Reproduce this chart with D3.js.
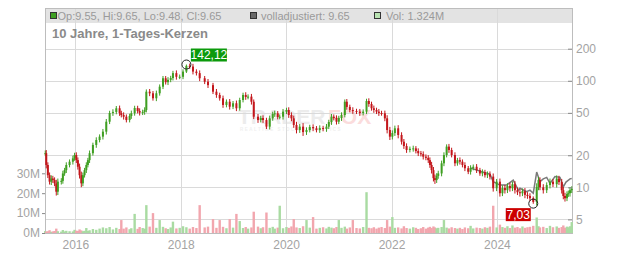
<!DOCTYPE html>
<html><head><meta charset="utf-8">
<script src="https://cdn.jsdelivr.net/npm/d3@7"></script>
<style>html,body{margin:0;padding:0;background:#fff;}svg{display:block;font-family:"Liberation Sans",Arial,sans-serif;}</style>
</head><body><svg id="c" width="632" height="253"></svg>
<script>
// ---- data ----
const years = [2015.430,2015.449,2015.479,2015.512,2015.544,2015.574,2015.607,2015.639,2015.669,2015.734,
2015.764,2015.797,2015.829,2015.891,2015.954,2015.986,2016.019,2016.049,2016.081,2016.114,
2016.144,2016.176,2016.209,2016.239,2016.271,2016.334,2016.398,2016.461,2016.524,2016.588,
2016.651,2016.714,2016.778,2016.841,2016.873,2016.917,2016.969,2017.031,2017.063,2017.126,
2017.183,2017.221,2017.278,2017.316,2017.348,2017.411,2017.474,2017.538,2017.601,2017.664,
2017.715,2017.759,2017.810,2017.853,2017.918,2017.981,2018.044,2018.108,2018.171,2018.233,
2018.298,2018.360,2018.455,2018.518,2018.613,2018.678,2018.740,2018.803,2018.868,2018.930,
2018.993,2019.057,2019.120,2019.183,2019.234,2019.278,2019.342,2019.386,2019.467,2019.519,
2019.562,2019.627,2019.689,2019.746,2019.784,2019.841,2019.879,2019.942,2020.007,2020.050,
2020.101,2020.145,2020.197,2020.259,2020.322,2020.387,2020.449,2020.512,2020.576,2020.639,
2020.702,2020.766,2020.810,2020.861,2020.905,2020.956,2021.000,2021.051,2021.114,2021.152,
2021.209,2021.266,2021.336,2021.399,2021.462,2021.526,2021.570,2021.621,2021.665,2021.716,
2021.760,2021.811,2021.874,2021.917,2021.969,2022.016,2022.064,2022.127,2022.191,2022.235,
2022.286,2022.349,2022.412,2022.463,2022.507,2022.558,2022.602,2022.653,2022.697,2022.729,
2022.761,2022.796,2022.824,2022.857,2022.887,2022.951,2022.995,2023.046,2023.090,2023.141,
2023.204,2023.251,2023.298,2023.346,2023.393,2023.456,2023.501,2023.551,2023.615,2023.678,
2023.725,2023.773,2023.820,2023.868,2023.930,2023.995,2024.057,2024.105,2024.152,2024.200,
2024.247,2024.295,2024.342,2024.390,2024.437,2024.485,2024.532,2024.580,2024.627,2024.690,
2024.755,2024.789,2024.817,2024.880,2024.945,2025.007,2025.064,2025.135,2025.178,2025.230,
2025.260,2025.292,2025.330,2025.355,2025.387,2025.420];
const closes = [20.9,16.2,13.0,11.3,12.1,11.7,10.9,9.1,11.3,11.5,
13.5,14.5,16.2,17.4,18.7,20.1,18.0,15.6,13.0,10.9,
13.0,14.5,16.2,18.0,20.9,25.0,27.8,29.9,33.3,41.3,
49.8,51.0,55.2,49.8,47.7,46.0,42.8,46.7,49.5,55.5,
52.0,50.2,51.0,53.2,79.0,76.3,68.5,76.3,88.0,105.6,
97.0,102.0,106.0,118.0,109.0,109.0,122.0,138.0,136.0,122.0,
118.0,105.6,98.0,91.0,79.0,73.6,68.5,59.3,63.6,57.1,
61.5,55.2,66.0,73.6,70.5,71.0,63.6,46.0,42.8,44.7,
42.8,37.1,44.4,48.8,49.5,45.7,46.0,51.3,53.2,47.7,
44.4,38.5,34.5,37.1,33.0,34.5,36.8,35.8,34.5,36.0,
35.3,37.1,41.0,46.0,44.7,41.3,44.7,47.7,63.6,56.8,
53.2,52.0,51.3,49.8,51.3,64.6,60.6,55.2,53.2,51.3,
49.8,49.5,44.4,34.5,29.9,32.3,35.8,31.0,26.8,24.4,
22.4,23.0,23.2,21.9,20.9,20.5,19.4,18.9,18.0,16.2,
14.5,12.2,11.7,12.8,13.5,16.8,20.1,24.1,22.4,20.1,
16.8,18.0,17.4,16.2,15.1,14.0,15.2,15.6,14.5,13.5,
13.9,13.0,13.3,12.6,9.8,11.3,8.8,9.85,9.4,10.3,
9.8,10.7,9.4,9.0,8.8,9.2,8.5,8.3,7.9,7.3,
10.1,11.7,10.0,9.4,10.5,11.3,10.7,12.1,11.2,9.4,
8.3,7.9,8.65,8.8,9.4,9.65];
// intra-period swing beyond the candle body, in percent (read from the wick spread)
const rangePct = [6,7,6,6,7,6,6,8,7,6,
6,5,6,5,6,5,6,6,7,8,
6,5,6,5,6,5,6,5,6,6,
5,6,5,6,5,6,5,5,6,5,
5,6,5,6,5,6,5,6,5,5,
5,6,5,5,6,5,5,3,5,6,
5,6,5,6,5,6,5,6,5,6,
5,6,5,5,6,5,6,5,6,5,
6,5,6,5,6,5,5,6,5,6,
6,6,7,6,8,6,5,6,5,6,
5,6,5,6,5,6,5,6,5,6,
5,6,5,6,5,5,6,5,6,5,
6,5,6,7,7,6,6,7,6,6,
6,5,6,5,6,5,6,5,6,6,
7,7,8,6,6,6,6,5,6,5,
6,5,6,5,6,5,6,5,6,5,
6,5,6,6,7,6,7,6,7,6,
7,6,7,6,7,6,7,6,6,4,
8,7,6,7,6,7,6,7,6,7,
7,7,6,6,7,6];
const volumes = [1.0,0.7,0.9,1.4,0.6,0.8,1.0,2.2,0.9,0.7,
1.5,0.8,1.1,0.9,0.8,1.6,1.2,1.0,1.8,1.3,
0.9,1.1,2.5,1.0,1.4,2.0,1.6,2.2,2.8,2.4,
3.0,1.8,2.6,2.0,6.5,2.2,2.8,1.9,2.4,9.6,
2.1,3.0,2.5,2.2,14.0,3.2,10.0,2.6,6.5,3.1,
2.4,2.0,2.8,5.7,2.3,2.6,3.4,2.9,2.2,3.0,
2.5,14.0,2.8,3.2,7.0,2.6,6.5,3.1,2.4,7.0,
2.7,9.6,6.0,2.5,3.0,2.2,2.8,10.7,3.2,2.4,
2.9,10.3,2.6,3.1,2.2,2.7,13.7,2.4,3.0,2.6,
3.3,7.0,2.8,2.5,3.4,6.5,2.7,8.0,2.2,2.6,
2.9,2.3,3.1,2.7,2.4,3.0,6.5,2.6,3.2,2.2,
2.8,6.5,2.5,2.3,3.0,20.5,2.6,2.4,2.9,2.2,
2.7,3.0,2.5,6.5,3.2,8.0,2.6,2.8,2.3,3.4,
2.5,2.2,2.9,2.6,2.0,2.4,3.0,2.2,2.7,3.1,
2.5,3.3,2.8,2.4,2.6,3.0,6.5,2.7,2.3,2.9,
2.5,2.2,2.6,2.0,2.8,2.4,3.6,2.3,2.7,2.5,
2.2,2.9,2.6,3.2,13.7,2.8,4.2,3.0,2.6,3.4,
2.5,3.8,2.7,3.0,2.4,3.3,2.6,2.9,3.1,3.6,
7.8,3.4,2.8,3.1,2.5,3.6,2.9,3.3,2.6,3.0,
3.8,2.7,3.2,2.9,3.4,5.5];
const adjYears = [2023.501,2023.678,2023.868,2023.930,2024.057,2024.184,2024.310,2024.405,2024.437,2024.564,
2024.627,2024.690,2024.755,2024.817,2024.880,2024.945,2025.007,2025.102,2025.197,2025.260,2025.311,2025.387,2025.420];
const adjCloses = [15.2,14.2,13.3,11.3,10.5,10.5,11.7,9.4,9.8,9.1,
9.4,8.8,13.9,11.3,12.0,12.4,10.9,12.6,12.4,10.1,11.2,12.0,12.1];
const priceTicks = [5,10,20,50,100,200];
const volumeTicks = [0,10,20,30];
const yearTicks = [2016,2018,2020,2022,2024];
const legendTexts = ["Op:9.55, Hi:9.65, Lo:9.48, Cl:9.65","volladjustiert: 9.65","Vol: 1.324M"];
const titleText = "10 Jahre, 1-Tages-Kerzen";
const highMark = {year: 2018.108, value: 142.12, label: "142,12"};
const lowMark = {year: 2024.690, value: 7.03, label: "7,03"};

// ---- layout ----
const L = 45, R = 572, T = 8, HB = 23, B = 233;
const svg = d3.select("#c");
const x = d3.scaleLinear().domain([2015.425, 2025.425]).range([L, R]);
const yP = d3.scaleLog().domain([5, 200]).range([219.4, 48.7]);
const yV = d3.scaleLinear().domain([0, 30]).range([B, 173.3]);
const GREEN = "#3f9f22", RED = "#c3161b", VGREEN = "#a9dba2", VRED = "#f2a6ae";

// header strip
svg.append("rect").attr("x", L).attr("y", T).attr("width", R - L).attr("height", HB - T)
  .attr("fill", "#e3e3e3");

// watermark
const wm = svg.append("g").attr("font-weight", "bold");
wm.append("text").attr("x", 238).attr("y", 124).attr("font-size", 21).attr("fill", "#ececec").text("TRADER");
wm.append("text").attr("x", 328).attr("y", 124).attr("font-size", 21).attr("fill", "#fbdcdc").text("FOX");
wm.append("text").attr("x", 240).attr("y", 131).attr("font-size", 4.5).attr("fill", "#efefef").attr("letter-spacing", 1.5).text("REALTIME STOCK ANALYTICS");

// grid
const grid = svg.append("g").attr("stroke", "#dadada").attr("stroke-width", 1).attr("shape-rendering", "crispEdges");
grid.selectAll(".h").data(priceTicks).join("line")
  .attr("x1", L).attr("x2", R).attr("y1", d => Math.round(yP(d)) + 0.5).attr("y2", d => Math.round(yP(d)) + 0.5);
grid.selectAll(".v").data(yearTicks).join("line")
  .attr("y1", T).attr("y2", B).attr("x1", d => Math.round(x(d)) + 0.5).attr("x2", d => Math.round(x(d)) + 0.5);

// frame
svg.append("path").attr("fill", "none").attr("shape-rendering", "crispEdges")
  .attr("d", `M${L + .5},${B}V${T + .5}H${R + .5}V${B + .5}H${L}`).attr("stroke", "#bdbdbd");

// volume bars
const data = years.map((t, i) => {
  const o = i ? closes[i - 1] : closes[i], c = closes[i], r = rangePct[i] / 100;
  return {t, o, c, h: Math.max(o, c) * (1 + r), l: Math.min(o, c) * (1 - r), v: volumes[i]};
});
svg.append("g").selectAll("rect").data(data).join("rect")
  .attr("x", d => x(d.t) - 1.2).attr("width", 2.4)
  .attr("y", d => yV(d.v)).attr("height", d => B - yV(d.v))
  .attr("fill", d => d.c >= d.o ? VGREEN : VRED);

// adjusted line
svg.append("path").datum(adjYears.map((t, i) => [t, adjCloses[i]]))
  .attr("fill", "none").attr("stroke", "#7a7a7a").attr("stroke-width", 1.5)
  .attr("d", d3.line().x(d => x(d[0])).y(d => yP(d[1])));

// candles
const cg = svg.append("g");
cg.selectAll("line").data(data).join("line")
  .attr("x1", d => x(d.t)).attr("x2", d => x(d.t))
  .attr("y1", d => yP(d.h)).attr("y2", d => yP(d.l))
  .attr("stroke", d => d.c >= d.o ? GREEN : RED).attr("stroke-width", 1);
cg.selectAll("rect").data(data).join("rect")
  .attr("x", d => x(d.t) - 1).attr("width", 2)
  .attr("y", d => yP(Math.max(d.o, d.c)))
  .attr("height", d => Math.max(1, Math.abs(yP(d.o) - yP(d.c))))
  .attr("fill", d => d.c >= d.o ? GREEN : RED);

// axes
const axStyle = g => {
  g.select(".domain").remove();
  g.selectAll("text").attr("fill", "#a3a3a3").attr("font-size", 12).attr("font-family", "Liberation Sans, Arial, sans-serif");
  g.selectAll("line").attr("stroke", "#888");
};
svg.append("g").attr("transform", `translate(${R},0)`)
  .call(d3.axisRight(yP).tickValues(priceTicks).tickFormat(d3.format("d")).tickSizeInner(-4).tickSizeOuter(0).tickPadding(4))
  .call(axStyle);
svg.append("g").attr("transform", `translate(${L},0)`)
  .call(d3.axisLeft(yV).tickValues(volumeTicks).tickFormat(d => d + "M").tickSizeInner(3).tickSizeOuter(0).tickPadding(2))
  .call(axStyle);
svg.append("g").attr("transform", `translate(0,${B})`)
  .call(d3.axisBottom(x).tickValues(yearTicks).tickFormat(d3.format("d")).tickSize(0).tickPadding(7))
  .call(axStyle);

// legend
const lg = svg.append("g").attr("font-size", 11).attr("fill", "#9a9a9a");
const legendX = [50.5, 250.5, 374.5], legendFill = [GREEN, "#6a6a6a", "#b9e3b2"], legendTextX = [57.5, 261, 386];
legendTexts.forEach((t, i) => {
  lg.append("rect").attr("x", legendX[i]).attr("y", 12.5).attr("width", 6).attr("height", 6)
    .attr("fill", legendFill[i]).attr("stroke", "#333").attr("stroke-width", 1);
  lg.append("text").attr("x", legendTextX[i]).attr("y", 19.5).text(t);
});
svg.append("text").attr("x", 52).attr("y", 37.5).attr("font-size", 13).attr("font-weight", "bold")
  .attr("fill", "#8a8a8a").text(titleText);

// annotations
function mark(m, dx, dy, anchorRight, fill, w) {
  const cx = x(m.year), cy = yP(m.value);
  svg.append("circle").attr("cx", cx).attr("cy", cy).attr("r", 4.5).attr("fill", "none").attr("stroke", "#222").attr("stroke-width", 1);
  const bx = anchorRight ? cx + dx - w : cx + dx, by = cy + dy;
  svg.append("rect").attr("x", bx).attr("y", by).attr("width", w).attr("height", 13).attr("fill", fill);
  svg.append("text").attr("x", bx + w / 2).attr("y", by + 10.5).attr("text-anchor", "middle")
    .attr("font-size", 12).attr("fill", "#fff").text(m.label);
}
mark(highMark, 4.5, -16, false, "#0c9a0c", 36);
mark(lowMark, -2.5, 4.5, true, "#cc0000", 25);
</script></body></html>
